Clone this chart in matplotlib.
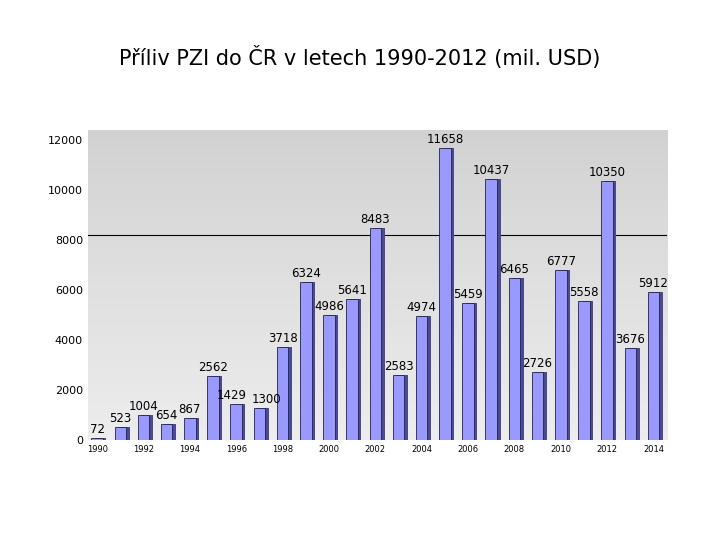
import matplotlib
matplotlib.use("Agg")
import matplotlib.pyplot as plt
import numpy as np

years = list(range(1990, 2015))
values = [72, 523, 1004, 654, 867, 2562, 1429, 1300, 3718, 6324, 4986, 5641, 8483,
          2583, 4974, 11658, 5459, 10437, 6465, 2726, 6777, 5558, 10350, 3676, 5912]
xtick_years = list(range(1990, 2015, 2))

fig = plt.figure(figsize=(7.2, 5.4), dpi=100)
fig.text(0.5, 0.88, "Příliv PZI do ČR v letech 1990-2012 (mil. USD)", ha="center",
         fontsize=15, family="DejaVu Sans")
ax = fig.add_axes([0.122, 0.185, 0.805, 0.575])
grad = np.linspace(0, 1, 256).reshape(-1, 1)
ax.imshow(grad, extent=[1989.6, 2014.6, 0, 12400], aspect="auto", cmap="Greys",
          vmin=-1.0, vmax=6.0, origin="lower", zorder=0)
ax.axhline(8200, color="black", lw=0.8, zorder=1)
x = np.array(years)
ax.bar(x + 0.15, values, width=0.5, color="#4a4a90", zorder=2)
ax.bar(x, values, width=0.5, color="#9999ff", edgecolor="#222244", lw=0.6, zorder=3)
for i, (xi, v) in enumerate(zip(x, values)):
    dx = -0.2 if v == 1429 else (0.3 if v == 1300 else 0.0)
    ax.text(xi + dx, v + 80, str(v), ha="center", va="bottom", fontsize=8.5, zorder=4)
ax.set_xlim(1989.6, 2014.6)
ax.set_ylim(0, 12400)
ax.set_yticks(range(0, 12001, 2000))
ax.set_xticks(xtick_years)
ax.tick_params(axis="x", labelsize=6, length=0)
ax.tick_params(axis="y", labelsize=8, length=0)
for s in ax.spines.values():
    s.set_visible(False)
fig.savefig("out.png", dpi=100)
